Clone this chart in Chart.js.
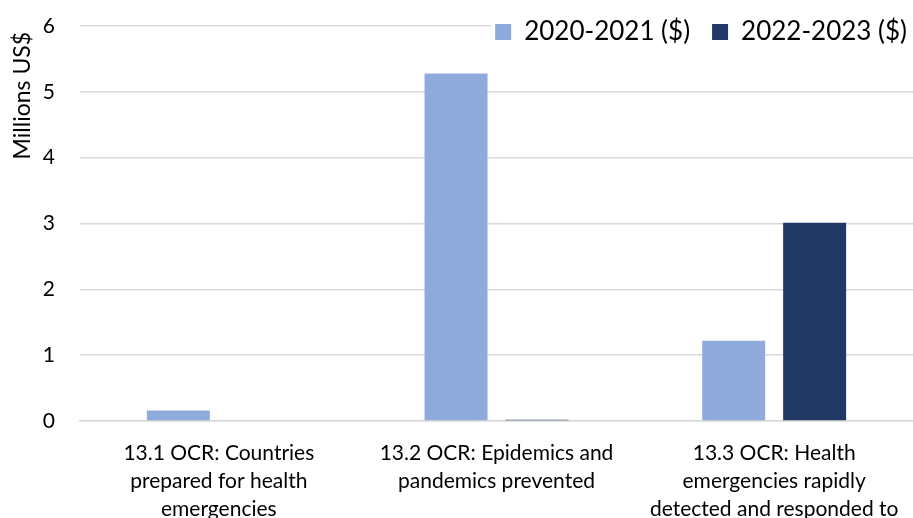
<!DOCTYPE html>
<html>
<head>
<meta charset="utf-8">
<script src="https://cdn.jsdelivr.net/npm/chart.js@4/dist/chart.umd.min.js"></script>
<style>
  html, body { margin: 0; padding: 0; background: #fff; }
  #wrap { width: 913px; height: 518px; }
</style>
</head>
<body>
<div id="wrap"><canvas id="c" width="913" height="518"></canvas></div>
<script>
const categories = [
  ['13.1 OCR: Countries', 'prepared for health', 'emergencies'],
  ['13.2 OCR: Epidemics and', 'pandemics prevented'],
  ['13.3 OCR: Health', 'emergencies rapidly', 'detected and responded to']
];
const seriesNames = ['2020-2021 ($)', '2022-2023 ($)'];
const values2020 = [0.16, 5.28, 1.22];
const values2022 = [0, 0.02, 3.01];
const yTicks = [0, 1, 2, 3, 4, 5, 6];

const FONT = 'Lato, "Open Sans", sans-serif';
const LEGEND_PAD = 22;

// Place the library legend inside the plot area (top right), over a white patch.
const legendInside = {
  id: 'legendInside',
  beforeLayout(chart) {
    const lg = chart.legend;
    if (lg && !lg.__wrapped) {
      lg.__wrapped = true;
      const fit = lg.fit;
      lg.fit = function () { fit.call(this); this.height = 0; };
      lg.__realDraw = lg.draw;
      lg.draw = function () {};
    }
  },
  beforeDatasetsDraw(chart) {
    const lg = chart.legend;
    if (!lg || !lg.__realDraw) return;
    const area = chart.chartArea;
    lg.top = area.top - 29;
    lg.bottom = area.top + 60;
    lg.height = lg.bottom - lg.top;
    lg.left = 0;
    lg.right = chart.width + 16;
    lg.width = lg.right - lg.left;
    const lineW = lg.lineWidths ? lg.lineWidths[0] : 0;
    const left = lg.right - lineW;
    const ctx = chart.ctx;
    ctx.save();
    ctx.fillStyle = '#ffffff';
    ctx.fillRect(left - 4, area.top - 3, chart.width - left + 4, 24);
    ctx.restore();
    lg.__realDraw();
  }
};

new Chart(document.getElementById('c'), {
  type: 'bar',
  data: {
    labels: categories,
    datasets: [
      { label: seriesNames[0], data: values2020, backgroundColor: '#8FAADC', borderWidth: 0 },
      { label: seriesNames[1], data: values2022, backgroundColor: '#203864', borderWidth: 0 }
    ]
  },
  options: {
    responsive: false,
    animation: false,
    devicePixelRatio: 1,
    layout: { padding: { top: 26, right: 0, left: 0, bottom: 0 } },
    datasets: { bar: { categoryPercentage: 0.583, barPercentage: 0.778 } },
    plugins: {
      legend: {
        position: 'top',
        align: 'end',
        labels: {
          boxWidth: 16, boxHeight: 16, padding: LEGEND_PAD,
          color: '#000',
          font: { family: FONT, size: 26 }
        }
      },
      tooltip: { enabled: false }
    },
    scales: {
      x: {
        grid: { display: false },
        border: { display: true, color: '#d9d9d9', width: 1.5 },
        ticks: {
          color: '#000',
          font: { family: FONT, size: 21, lineHeight: 1.33 },
          padding: 10,
          maxRotation: 0,
          autoSkip: false
        },
        afterFit(s) { s.height = 97; }
      },
      y: {
        min: 0, max: 6,
        afterBuildTicks(s) { s.ticks = yTicks.map(v => ({ value: v })); },
        grid: { color: '#d9d9d9', lineWidth: 1.5, drawTicks: false },
        border: { display: false },
        ticks: {
          color: '#000',
          font: { family: FONT, size: 21 },
          padding: 25
        },
        title: {
          display: true,
          text: 'Millions US$ ',
          align: 'end',
          color: '#000',
          font: { family: FONT, size: 23 },
          padding: { top: 9, bottom: 4 }
        },
        afterFit(s) { s.width = 80; s.paddingTop = 0; s.paddingBottom = 0; }
      }
    }
  },
  plugins: [legendInside]
});
</script>
</body>
</html>
